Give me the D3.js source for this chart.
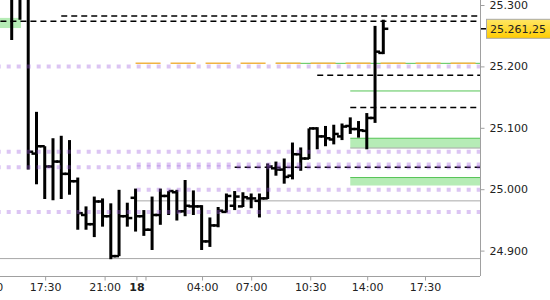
<!DOCTYPE html>
<html>
<head>
<meta charset="utf-8">
<script src="https://cdn.jsdelivr.net/npm/d3@7"></script>
<style>
body { margin: 0; background: #fff; }
text { font-family: "DejaVu Sans", Verdana, sans-serif; font-size: 11px; fill: #222; }
</style>
</head>
<body>
<svg id="chart" width="550" height="300"></svg>
<script>
// 30 minute OHLC bars, index 0 = first bar on screen
var opens = [25.322, 25.316, 25.320, 25.058, 25.070, 25.037, 25.045, 25.025, 25.013, 24.958,
    24.943, 24.980, 24.956, 24.891, 24.956, 24.986, 24.956, 24.934, 24.958, 24.989,
    24.995, 24.964, 24.972, 24.972, 24.915, 24.941, 24.963, 24.973, 24.972, 24.985,
    24.981, 24.985, 25.034, 25.032, 25.022, 25.057, 25.050, 25.099, 25.086, 25.081,
    25.086, 25.103, 25.098, 25.095, 25.116, 25.222];
var highs = [25.335, 25.357, 25.330, 25.126, 25.070, 25.083, 25.087, 25.080, 25.019, 24.972,
    24.988, 24.985, 24.977, 24.999, 24.978, 25.001, 24.966, 24.988, 25.001, 24.997,
    24.999, 25.015, 24.998, 24.974, 24.954, 24.971, 24.993, 24.997, 24.995, 24.993,
    24.993, 25.042, 25.045, 25.050, 25.076, 25.068, 25.099, 25.101, 25.103, 25.105,
    25.107, 25.117, 25.111, 25.124, 25.266, 25.276];
var lows = [25.243, 25.276, 25.032, 25.008, 24.984, 24.982, 24.984, 24.991, 24.934, 24.934,
    24.922, 24.939, 24.886, 24.891, 24.939, 24.931, 24.924, 24.901, 24.942, 24.958,
    24.949, 24.956, 24.958, 24.901, 24.906, 24.938, 24.962, 24.966, 24.971, 24.969,
    24.954, 24.984, 25.022, 25.009, 25.016, 25.030, 25.049, 25.065, 25.070, 25.073,
    25.080, 25.090, 25.084, 25.065, 25.108, 25.220];
var closes = [25.314, 25.325, 25.061, 25.070, 25.037, 25.045, 25.025, 25.013, 24.961, 24.943,
    24.980, 24.956, 24.891, 24.956, 24.953, 24.956, 24.934, 24.958, 24.989, 24.997,
    24.964, 24.973, 24.972, 24.915, 24.941, 24.965, 24.989, 24.988, 24.987, 24.985,
    24.985, 25.037, 25.032, 25.020, 25.057, 25.050, 25.099, 25.086, 25.083, 25.090,
    25.102, 25.098, 25.096, 25.116, 25.224, 25.26125];
var lastPrice = 25.26125;

var yTicks = [24.9, 25.0, 25.1, 25.2, 25.3];
var xTickPos = [-3, 4.05, 11.25, 15.1, 16.2, 23.05, 29, 36.15, 43.05, 50.05];
var xTickLabels = ["14:00", "17:30", "21:00", "18", "", "04:00", "07:00", "10:30", "14:00", "17:30"];

// levels: [price, first bar]
var dottedLevels = [[25.200, -5], [25.061, -5], [25.0402, 15], [25.0357, -5], [24.999, 15], [24.963, -5]];
var dashedLevels = [[25.282, 6], [25.2735, -5], [25.1855, 37], [25.133, 41], [25.0357, 27]];
var grayLevels = [[25.067, 41], [24.981, 15], [24.887, -5]];
var greenLevels = [[25.205, 32], [25.160, 41], [25.083, 41], [25.019, 41]];
var orangeLevels = [[25.205, 15]];
// zones: [low, high, first bar, last bar]
var greenZones = [[25.2625, 25.279, -5, 1.13], [25.067, 25.083, 41, 60], [25.006, 25.019, 41, 60]];

var W = 480, H = 276;
var svg = d3.select("#chart");

var x = d3.scaleLinear().domain([-1.417, 56.71]).range([0, W]);
var y = d3.scaleLinear().domain([24.9, 25.3]).range([250.6, 5]);

svg.append("clipPath").attr("id", "clip")
    .append("rect").attr("width", W).attr("height", H);

var plot = svg.append("g").attr("clip-path", "url(#clip)");

// zones
plot.selectAll(".zone")
    .data(greenZones)
    .enter()
    .append("rect")
    .attr("x", function(d) { return x(d[2]); })
    .attr("y", function(d) { return y(d[1]); })
    .attr("width", function(d) { return x(d[3]) - x(d[2]); })
    .attr("height", function(d) { return y(d[0]) - y(d[1]); })
    .attr("fill", "#b6ecb6");

function levelLines(data, color, width, dash) {
    return plot.selectAll(null)
        .data(data)
        .enter()
        .append("line")
        .attr("x1", function(d) { return x(d[1]); })
        .attr("x2", W)
        .attr("y1", function(d) { return y(d[0]); })
        .attr("y2", function(d) { return y(d[0]); })
        .attr("stroke", color)
        .attr("stroke-width", width)
        .attr("stroke-dasharray", dash);
}

levelLines(grayLevels, "#a8a8a8", 1, null);
levelLines(greenLevels, "#55c455", 1, null);
levelLines(orangeLevels, "#f0b444", 1.5, "25,10");
levelLines(dashedLevels, "#000", 1.4, "6,4");

// bars
var bars = plot.selectAll(".bar")
    .data(opens)
    .enter()
    .append("g");

bars.append("line")
    .attr("x1", function(d, i) { return x(i); })
    .attr("x2", function(d, i) { return x(i); })
    .attr("y1", function(d, i) { return y(highs[i]); })
    .attr("y2", function(d, i) { return y(lows[i]); })
    .attr("stroke", "#000")
    .attr("stroke-width", 3);

bars.append("line")
    .attr("x1", function(d, i) { return x(i) - 5; })
    .attr("x2", function(d, i) { return x(i); })
    .attr("y1", function(d) { return y(d); })
    .attr("y2", function(d) { return y(d); })
    .attr("stroke", "#000")
    .attr("stroke-width", 2.5);

bars.append("line")
    .attr("x1", function(d, i) { return x(i); })
    .attr("x2", function(d, i) { return x(i) + 5; })
    .attr("y1", function(d, i) { return y(closes[i]); })
    .attr("y2", function(d, i) { return y(closes[i]); })
    .attr("stroke", "#000")
    .attr("stroke-width", 2.5);

// dotted levels drawn translucent on top
levelLines(dottedLevels, "rgb(155,90,220)", 4, "4,6")
    .attr("stroke-opacity", 0.35)
    .attr("stroke-dashoffset", function(d) {
        return (((x(d[1]) - 6.7) % 10) + 10) % 10;
    });

// frame
svg.append("line").attr("x1", 0).attr("x2", W).attr("y1", H + 0.5).attr("y2", H + 0.5)
    .attr("stroke", "#a0a0a0");
svg.append("line").attr("x1", W + 0.5).attr("x2", W + 0.5).attr("y1", 0).attr("y2", H)
    .attr("stroke", "#a0a0a0");

// axes
var yAxis = svg.append("g")
    .attr("transform", "translate(" + (W + 0.5) + ",0)")
    .call(d3.axisRight(y).tickValues(yTicks).tickSize(4).tickPadding(5)
        .tickFormat(d3.format(".3f")));

var xAxis = svg.append("g")
    .attr("transform", "translate(0," + (H + 0.5) + ")")
    .call(d3.axisBottom(x).tickValues(xTickPos).tickSize(4).tickPadding(3)
        .tickFormat(function(d, i) { return xTickLabels[i]; }));

svg.selectAll(".domain").remove();
svg.selectAll(".tick line").attr("stroke", "#a0a0a0");
svg.selectAll(".tick text").attr("fill", "#222")
    .style("font-family", '"DejaVu Sans", Verdana, sans-serif').style("font-size", "11px");
xAxis.selectAll(".tick text")
    .style("font-weight", function(d, i) { return xTickLabels[i] == "18" ? "bold" : null; });

// last price marker
var grad = svg.append("defs").append("linearGradient")
    .attr("id", "gold").attr("x1", 0).attr("x2", 0).attr("y1", 0).attr("y2", 1);
grad.append("stop").attr("offset", 0).attr("stop-color", "#ffe766");
grad.append("stop").attr("offset", 1).attr("stop-color", "#ffcc00");

var ly = y(lastPrice);
svg.append("line").attr("x1", W + 1).attr("x2", 486).attr("y1", ly).attr("y2", ly)
    .attr("stroke", "#000").attr("stroke-width", 1.5);
svg.append("rect")
    .attr("x", 486.5).attr("y", ly - 9.5)
    .attr("width", 64).attr("height", 19)
    .attr("fill", "url(#gold)").attr("stroke", "#a8a8a8");

var s = lastPrice.toFixed(5);
svg.append("text")
    .attr("x", 490).attr("y", ly).attr("dy", "0.35em")
    .attr("fill", "#000")
    .text(s.slice(0, -2) + "," + s.slice(-2));
</script>
</body>
</html>
